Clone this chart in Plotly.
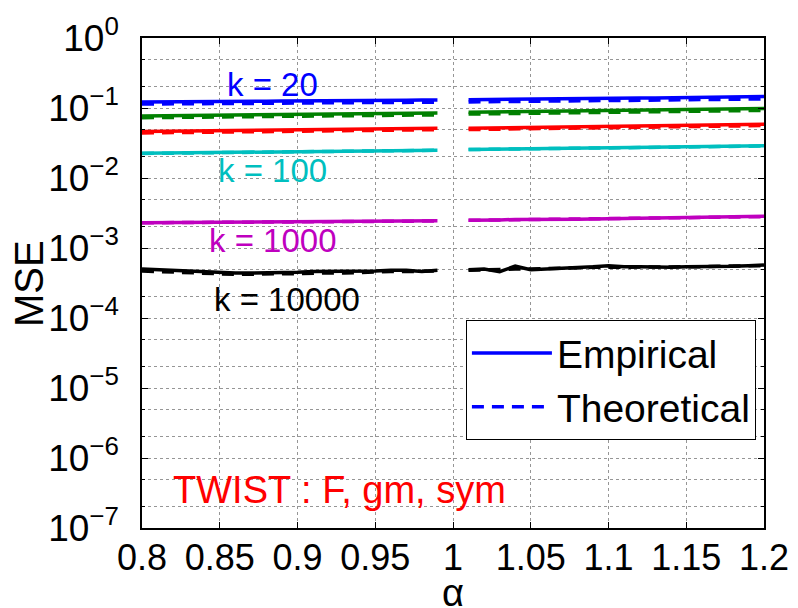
import plotly.graph_objects as go

# alpha grid: two segments with a gap at alpha = 1
alpha = [0.80, 0.81, 0.82, 0.83, 0.84, 0.85, 0.86, 0.87, 0.88, 0.89,
         0.90, 0.91, 0.92, 0.93, 0.94, 0.95, 0.96, 0.97, 0.98, 0.99,
         None,
         1.01, 1.02, 1.03, 1.04, 1.05, 1.06, 1.07, 1.08, 1.09, 1.10,
         1.11, 1.12, 1.13, 1.14, 1.15, 1.16, 1.17, 1.18, 1.19, 1.20]

emp_k20 = [0.122, 0.122, 0.123, 0.123, 0.124, 0.124, 0.125, 0.125, 0.125, 0.126,
           0.126, 0.127, 0.127, 0.127, 0.128, 0.128, 0.129, 0.129, 0.130, 0.130,
           None,
           0.131, 0.132, 0.132, 0.133, 0.134, 0.134, 0.135, 0.136, 0.136, 0.137,
           0.138, 0.139, 0.139, 0.140, 0.141, 0.142, 0.143, 0.144, 0.145, 0.146]
theo_k20 = [0.114, 0.114, 0.115, 0.115, 0.115, 0.116, 0.116, 0.117, 0.117, 0.117,
            0.118, 0.118, 0.118, 0.119, 0.119, 0.120, 0.120, 0.120, 0.121, 0.121,
            None,
            0.122, 0.123, 0.123, 0.124, 0.125, 0.125, 0.126, 0.126, 0.127, 0.128,
            0.128, 0.129, 0.130, 0.130, 0.131, 0.132, 0.133, 0.134, 0.134, 0.135]

emp_k30 = [0.0770, 0.0773, 0.0778, 0.0781, 0.0786, 0.0790, 0.0793, 0.0798, 0.0802, 0.0805,
           0.0810, 0.0814, 0.0817, 0.0822, 0.0826, 0.0829, 0.0834, 0.0838, 0.0841, 0.0846,
           None,
           0.0868, 0.0873, 0.0880, 0.0886, 0.0891, 0.0898, 0.0904, 0.0909, 0.0916, 0.0922,
           0.0927, 0.0934, 0.0940, 0.0945, 0.0952, 0.0958, 0.0963, 0.0970, 0.0976, 0.0982]
theo_k30 = [0.0726, 0.0730, 0.0734, 0.0737, 0.0741, 0.0745, 0.0749, 0.0752, 0.0756, 0.0760,
            0.0764, 0.0768, 0.0771, 0.0775, 0.0779, 0.0783, 0.0787, 0.0790, 0.0794, 0.0798,
            None,
            0.0818, 0.0824, 0.0830, 0.0835, 0.0841, 0.0847, 0.0852, 0.0858, 0.0864, 0.0869,
            0.0875, 0.0881, 0.0886, 0.0892, 0.0898, 0.0903, 0.0909, 0.0915, 0.0920, 0.0926]

emp_k50 = [0.0460, 0.0462, 0.0465, 0.0468, 0.0470, 0.0473, 0.0476, 0.0478, 0.0481, 0.0484,
           0.0487, 0.0489, 0.0492, 0.0495, 0.0498, 0.0500, 0.0503, 0.0506, 0.0509, 0.0512,
           None,
           0.0514, 0.0518, 0.0521, 0.0525, 0.0529, 0.0532, 0.0536, 0.0540, 0.0543, 0.0547,
           0.0551, 0.0555, 0.0559, 0.0563, 0.0567, 0.0571, 0.0575, 0.0579, 0.0583, 0.0588]
theo_k50 = [0.0440, 0.0442, 0.0445, 0.0447, 0.0450, 0.0452, 0.0455, 0.0457, 0.0460, 0.0463,
            0.0465, 0.0468, 0.0471, 0.0473, 0.0476, 0.0479, 0.0481, 0.0484, 0.0487, 0.0490,
            None,
            0.0492, 0.0495, 0.0499, 0.0502, 0.0506, 0.0509, 0.0513, 0.0516, 0.0520, 0.0523,
            0.0527, 0.0531, 0.0534, 0.0538, 0.0542, 0.0546, 0.0550, 0.0553, 0.0557, 0.0561]

emp_k100 = [0.0225, 0.0226, 0.0227, 0.0229, 0.0230, 0.0231, 0.0232, 0.0234, 0.0235, 0.0236,
            0.0238, 0.0239, 0.0240, 0.0242, 0.0243, 0.0244, 0.0246, 0.0247, 0.0249, 0.0250,
            None,
            0.0256, 0.0257, 0.0259, 0.0260, 0.0262, 0.0263, 0.0265, 0.0267, 0.0268, 0.0270,
            0.0272, 0.0273, 0.0275, 0.0277, 0.0279, 0.0280, 0.0282, 0.0284, 0.0286, 0.0288]
theo_k100 = [0.0224, 0.0225, 0.0226, 0.0228, 0.0229, 0.0230, 0.0231, 0.0233, 0.0234, 0.0235,
             0.0237, 0.0238, 0.0239, 0.0241, 0.0242, 0.0243, 0.0245, 0.0246, 0.0248, 0.0249,
             None,
             0.0255, 0.0256, 0.0258, 0.0259, 0.0261, 0.0262, 0.0264, 0.0266, 0.0267, 0.0269,
             0.0271, 0.0272, 0.0274, 0.0276, 0.0278, 0.0279, 0.0281, 0.0283, 0.0285, 0.0287]

emp_k1000 = [0.00230, 0.00231, 0.00231, 0.00232, 0.00233, 0.00233, 0.00234, 0.00235, 0.00235, 0.00236,
             0.00237, 0.00238, 0.00238, 0.00239, 0.00240, 0.00241, 0.00242, 0.00244, 0.00243, 0.00245,
             None,
             0.00249, 0.00254, 0.00252, 0.00256, 0.00255, 0.00257, 0.00258, 0.00257, 0.00260, 0.00262,
             0.00264, 0.00266, 0.00268, 0.00270, 0.00272, 0.00274, 0.00277, 0.00279, 0.00282, 0.00285]
theo_k1000 = [0.00229, 0.00230, 0.00231, 0.00231, 0.00232, 0.00233, 0.00233, 0.00234, 0.00235, 0.00235,
              0.00236, 0.00237, 0.00238, 0.00238, 0.00239, 0.00240, 0.00241, 0.00241, 0.00242, 0.00243,
              None,
              0.00249, 0.00250, 0.00252, 0.00253, 0.00255, 0.00256, 0.00258, 0.00259, 0.00261, 0.00262,
              0.00264, 0.00266, 0.00267, 0.00269, 0.00271, 0.00273, 0.00275, 0.00277, 0.00279, 0.00281]

emp_k10000 = [5.0e-4, 4.9e-4, 4.8e-4, 4.6e-4, 4.5e-4, 4.4e-4, 4.4e-4, 4.4e-4, 4.4e-4, 4.4e-4,
              4.5e-4, 4.6e-4, 4.6e-4, 4.7e-4, 4.7e-4, 4.7e-4, 4.8e-4, 4.8e-4, 4.6e-4, 4.8e-4,
              None,
              4.9e-4, 5.0e-4, 4.6e-4, 5.5e-4, 4.9e-4, 5.0e-4, 5.1e-4, 5.2e-4, 5.4e-4, 5.6e-4,
              5.4e-4, 5.4e-4, 5.3e-4, 5.3e-4, 5.4e-4, 5.4e-4, 5.5e-4, 5.5e-4, 5.6e-4, 5.7e-4]
theo_k10000 = [4.7e-4, 4.6e-4, 4.5e-4, 4.4e-4, 4.3e-4, 4.2e-4, 4.2e-4, 4.2e-4, 4.3e-4, 4.3e-4,
               4.3e-4, 4.4e-4, 4.4e-4, 4.4e-4, 4.5e-4, 4.5e-4, 4.6e-4, 4.6e-4, 4.6e-4, 4.7e-4,
               None,
               4.8e-4, 4.9e-4, 4.9e-4, 5.0e-4, 5.0e-4, 5.1e-4, 5.1e-4, 5.2e-4, 5.3e-4, 5.3e-4,
               5.3e-4, 5.3e-4, 5.3e-4, 5.4e-4, 5.4e-4, 5.4e-4, 5.5e-4, 5.5e-4, 5.6e-4, 5.6e-4]

series = [
    ("k = 20", emp_k20, theo_k20, "rgb(0,0,255)"),
    ("k = 30", emp_k30, theo_k30, "rgb(0,128,0)"),
    ("k = 50", emp_k50, theo_k50, "rgb(255,0,0)"),
    ("k = 100", emp_k100, theo_k100, "rgb(0,191,191)"),
    ("k = 1000", emp_k1000, theo_k1000, "rgb(191,0,191)"),
    ("k = 10000", emp_k10000, theo_k10000, "rgb(0,0,0)"),
]

x_ticks = [0.8, 0.85, 0.9, 0.95, 1.0, 1.05, 1.1, 1.15, 1.2]
x_tick_labels = ["0.8", "0.85", "0.9", "0.95", "1", "1.05", "1.1", "1.15", "1.2"]
y_ticks = [1e-7, 1e-6, 1e-5, 1e-4, 1e-3, 1e-2, 1e-1, 1e0]
y_tick_labels = ["10<sup>\u22127</sup>", "10<sup>\u22126</sup>", "10<sup>\u22125</sup>",
                 "10<sup>\u22124</sup>", "10<sup>\u22123</sup>", "10<sup>\u22122</sup>",
                 "10<sup>\u22121</sup>", "10<sup>0</sup>"]

FONT = "Liberation Sans, Arial, sans-serif"
GRID = "rgb(150,150,150)"

fig = go.Figure()
for i, (name, emp, theo, col) in enumerate(series):
    fig.add_trace(go.Scatter(x=alpha, y=theo, mode="lines", name="Theoretical",
                             line=dict(color=col, width=3.5, dash="12px,8px"),
                             showlegend=(i == 0), legendrank=2, connectgaps=False))
    fig.add_trace(go.Scatter(x=alpha, y=emp, mode="lines", name="Empirical",
                             line=dict(color=col, width=3.5),
                             showlegend=(i == 0), legendrank=1, connectgaps=False))

labels = [
    ("k = 20", 0.884, -0.67, "rgb(0,0,255)"),
    ("k = 100", 0.884, -1.89, "rgb(0,191,191)"),
    ("k = 1000", 0.884, -2.89, "rgb(191,0,191)"),
    ("k = 10000", 0.893, -3.74, "rgb(0,0,0)"),
]
for txt, xa, ya, col in labels:
    fig.add_annotation(x=xa, y=ya, xref="x", yref="y", text=txt, showarrow=False,
                       font=dict(family=FONT, size=33, color=col))
fig.add_annotation(x=0.927, y=-6.46, xref="x", yref="y", text="TWIST : F, gm, sym",
                   showarrow=False, font=dict(family=FONT, size=38, color="rgb(255,0,0)"))

# axis titles as annotations for exact placement
fig.add_annotation(x=0.5, y=-0.132, xref="paper", yref="paper", text="\u03b1",
                   showarrow=False, yanchor="middle", height=30, valign="middle",
                   font=dict(family=FONT, size=38, color="black"))
fig.add_annotation(x=-0.1817, y=0.5, xref="paper", yref="paper", text="MSE",
                   showarrow=False, textangle=-90, xanchor="center",
                   font=dict(family=FONT, size=40, color="black"))

# page body adds an 8px offset, so the figure is 790x600 with shifted margins
fig.update_layout(
    width=790, height=600,
    margin=dict(l=134, r=34, t=30, b=80, autoexpand=False),
    paper_bgcolor="white", plot_bgcolor="white",
    font=dict(family=FONT, size=36, color="black"),
    legend=dict(x=0.987, y=0.424, xanchor="right", yanchor="top",
                bgcolor="white", bordercolor="black", borderwidth=1,
                font=dict(family=FONT, size=39, color="black"),
                tracegroupgap=0, itemwidth=80),
)
fig.update_xaxes(
    range=[0.8, 1.2], tickvals=x_ticks, ticktext=x_tick_labels,
    showline=True, linecolor="black", linewidth=1.5, mirror="ticks",
    ticks="inside", ticklen=6, tickcolor="black",
    showgrid=True, gridcolor=GRID, griddash="dot", gridwidth=1,
    zeroline=False, automargin=False, ticklabelstandoff=-3,
    tickfont=dict(family=FONT, size=36),
)
fig.update_yaxes(
    type="log", range=[-7, 0], tickvals=y_ticks, ticktext=y_tick_labels,
    showline=True, linecolor="black", linewidth=1.5, mirror="ticks",
    ticks="inside", ticklen=6, tickcolor="black",
    showgrid=True, gridcolor=GRID, griddash="dot", gridwidth=1,
    minor=dict(showgrid=True, gridcolor=GRID, griddash="dot",
               ticks="inside", ticklen=3, tickcolor="black"),
    zeroline=False, automargin=False, ticklabelstandoff=14,
    tickfont=dict(family=FONT, size=37),
)

fig.write_html("out.html")
